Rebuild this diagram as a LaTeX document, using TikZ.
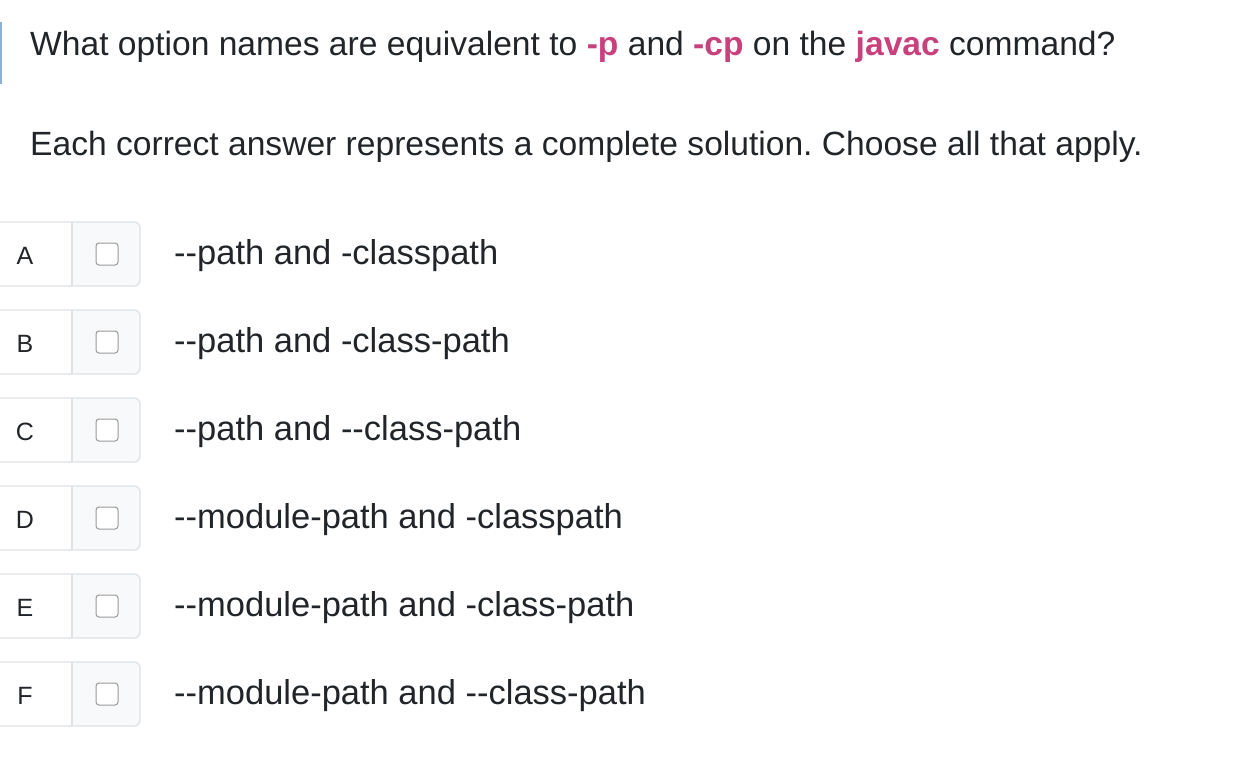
\documentclass[tikz,border=0pt]{standalone}
\usepackage{fontspec}
\setmainfont{Liberation Sans}
\frenchspacing
\definecolor{pinkc}{HTML}{C8417C}
\definecolor{txt}{HTML}{212529}
\definecolor{bord}{HTML}{DEE2E6}
\definecolor{grayfill}{HTML}{F8F9FA}
\definecolor{bluebar}{HTML}{8FAFD6}
\begin{document}
\begin{tikzpicture}[x=1pt,y=-1pt,
  big/.style={anchor=west,inner sep=0pt,text=txt,font=\fontsize{33.6}{40}\selectfont},
  opt/.style={anchor=west,inner sep=0pt,text=txt,font=\fontsize{34.5}{40}\selectfont},
  lett/.style={inner sep=0pt,text=txt,font=\fontsize{25}{30}\selectfont}]
\useasboundingbox (0,0) rectangle (1242,768);
\draw[bluebar,line width=1.5pt] (1,22) -- (1,84);
\node[big] (q) at (30,47) {What option names are equivalent to \textbf{\color{pinkc}-p} and \textbf{\color{pinkc}-cp} on the \textbf{\color{pinkc}javac} command?};
\node[big] (inst) at (30,147) {Each correct answer represents a complete solution. Choose all that apply.};
\foreach \l/\t [count=\i from 0] in {A/{-{}-path and -classpath},B/{-{}-path and -class-path},C/{-{}-path and -{}-class-path},D/{-{}-module-path and -classpath},E/{-{}-module-path and -class-path},F/{-{}-module-path and -{}-class-path}}{
  \pgfmathsetmacro\yc{254+88*\i}
  \fill[grayfill,rounded corners=6pt] (60,\yc-32) rectangle (140,\yc+32);
  \fill[white] (-10,\yc-32) rectangle (72,\yc+32);
  \draw[bord,line width=1.3pt,rounded corners=6pt] (-10,\yc-32) rectangle (140,\yc+32);
  \draw[bord,line width=1.3pt] (72,\yc-32) -- (72,\yc+32);
  \draw[fill=white,draw=black!40,line width=1pt,rounded corners=3pt] (96,\yc-11) rectangle (118,\yc+11);
  \node[lett] (l\l) at (25,\yc+2) {\l};
  \node[opt] (o\l) at (174,\yc+2) {\t};
}
\end{tikzpicture}
\end{document}
